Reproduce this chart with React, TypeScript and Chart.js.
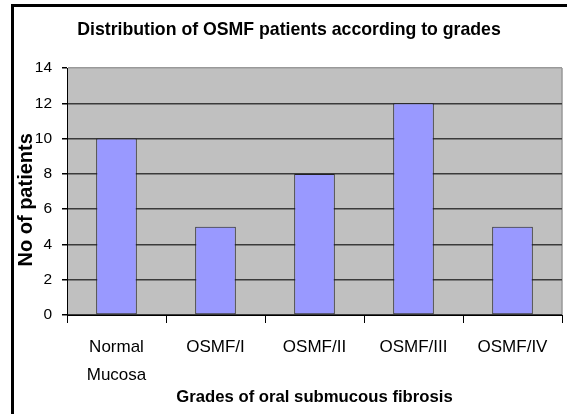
import React, { useEffect, useRef } from 'react';
import { Chart, registerables } from 'chart.js';

Chart.register(...registerables);

const categories: (string | string[])[] = [['Normal', 'Mucosa'], 'OSMF/I', 'OSMF/II', 'OSMF/III', 'OSMF/IV'];
const patients: number[] = [10, 5, 8, 12, 5];
const yTicks: number[] = [0, 2, 4, 6, 8, 10, 12, 14];
const chartTitle = 'Distribution of OSMF patients according to grades';
const xTitle = 'Grades of oral submucous fibrosis';
const yTitle = 'No of patients';

const FONT = "'Liberation Sans', Arial, Helvetica, sans-serif";

const plotBg = {
  id: 'plotBg',
  beforeDraw(chart: any) {
    const { ctx, chartArea: a } = chart;
    ctx.save();
    ctx.fillStyle = '#C0C0C0';
    ctx.fillRect(a.left, a.top, a.right - a.left, a.bottom - a.top);
    ctx.strokeStyle = '#999999';
    ctx.lineWidth = 1.5;
    ctx.beginPath();
    ctx.moveTo(a.right, a.top);
    ctx.lineTo(a.right, a.bottom);
    ctx.stroke();
    ctx.restore();
  },
};

export default function App() {
  const ref = useRef<HTMLCanvasElement | null>(null);

  useEffect(() => {
    if (!ref.current) return;
    Chart.defaults.font.family = FONT;
    const chart = new Chart(ref.current, {
      type: 'bar',
      data: {
        labels: categories,
        datasets: [
          {
            data: patients,
            backgroundColor: '#9999FF',
            borderColor: '#222222',
            borderWidth: 1,
            borderSkipped: false,
            categoryPercentage: 1,
            barPercentage: 0.41,
          },
        ],
      },
      options: {
        animation: false,
        responsive: false,
        maintainAspectRatio: false,
        layout: { padding: { left: 16, right: 5, top: 0, bottom: 0 } },
        plugins: {
          legend: { display: false },
          tooltip: { enabled: false },
          title: {
            display: true,
            text: chartTitle,
            color: '#000',
            font: { family: FONT, size: 17.7, weight: 'bold', lineHeight: 1.2 },
            padding: { top: 19, bottom: 27.8 },
          },
        },
        scales: {
          x: {
            offset: true,
            afterFit: (s: any) => { s.height = 99; },
            grid: {
              offset: true,
              drawOnChartArea: false,
              color: '#000',
              tickColor: '#000',
              tickLength: 8,
            },
            border: { display: true, color: '#000', width: 1 },
            ticks: {
              color: '#000',
              font: { family: FONT, size: 17, lineHeight: 1.65 },
              padding: 10,
              maxRotation: 0,
              autoSkip: false,
            },
            title: {
              display: true,
              text: xTitle,
              color: '#000',
              font: { family: FONT, size: 16.7, weight: 'bold', lineHeight: 1.2 },
              padding: { top: 0, bottom: 7 },
            },
          },
          y: {
            min: 0,
            max: 14,
            afterFit: (s: any) => { s.width = 51; },
            afterBuildTicks: (s: any) => { s.ticks = yTicks.map((v) => ({ value: v })); },
            grid: {
              color: (c: any) => (c.tick && c.tick.value === 14 ? '#999999' : '#3a3a3a'),
              lineWidth: 1.5,
              tickColor: '#000',
              tickLength: 5,
            },
            border: { display: true, color: '#000', width: 1 },
            ticks: {
              color: '#000',
              font: { family: FONT, size: 15.5 },
              padding: 10,
            },
            title: {
              display: true,
              text: yTitle + '   ',
              color: '#000',
              font: { family: FONT, size: 20, weight: 'bold', lineHeight: 1 },
              padding: { top: 0, bottom: 0 },
            },
          },
        },
      },
      plugins: [plotBg],
    });
    return () => chart.destroy();
  }, []);

  return (
    <div style={{ position: 'absolute', left: 0, top: 0, width: 567, height: 414, background: '#fff' }}>
      <canvas ref={ref} width={567} height={414} style={{ display: 'block', width: 567, height: 414 }} />
      <div
        style={{
          position: 'absolute',
          left: 11,
          top: 4,
          width: 556,
          height: 410,
          borderLeft: '3px solid #000',
          borderTop: '3px solid #000',
          boxSizing: 'border-box',
          pointerEvents: 'none',
        }}
      />
    </div>
  );
}
